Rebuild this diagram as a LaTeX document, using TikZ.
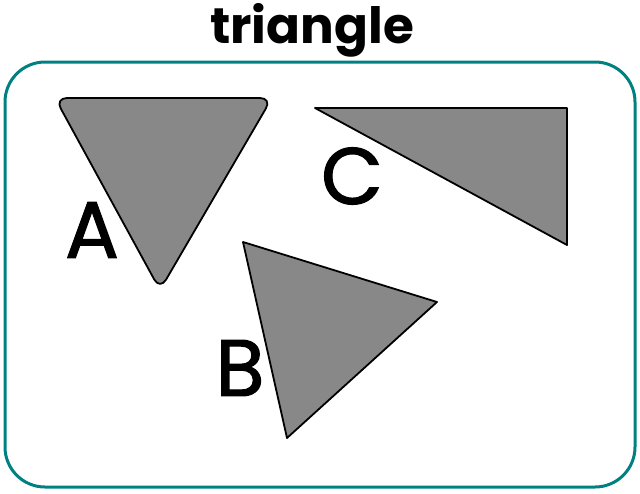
\documentclass[tikz,border=0pt]{standalone}
\usepackage{fontspec}
\setmainfont{Poppins}
\newfontfamily\letterfont[FakeBold=1.5]{Poppins}
\definecolor{frameteal}{RGB}{0,128,128}
\definecolor{trigray}{RGB}{136,136,136}
\tikzstyle{tri}   = [draw=black,fill=trigray,line width=1.8pt,line join=round]
\tikzstyle{letter} = [font=\fontsize{80}{80}\letterfont,inner sep=0pt]
\begin{document}
\begin{tikzpicture}[x=1pt,y=-1pt]
\useasboundingbox (0,0) rectangle (640,493);
\draw[frameteal,line width=3pt,rounded corners=40pt] (5,62) rectangle (635,487);
\node[font=\fontsize{50}{50}\selectfont\bfseries,inner sep=0pt] (title) at (312,30) {triangle};
% triangles
\draw[tri,rounded corners=12pt] (55,98) -- (272,98) -- (160,290) -- cycle;
\draw[tri] (315,108) -- (567,108) -- (567,245) -- cycle;
\draw[tri] (243,242) -- (437,302) -- (287,438) -- cycle;
% labels
\node[letter] (labA) at (92,230) {A};
\node[letter] (labC) at (352,176) {C};
\node[letter] (labB) at (240,368) {B};
\end{tikzpicture}
\end{document}
